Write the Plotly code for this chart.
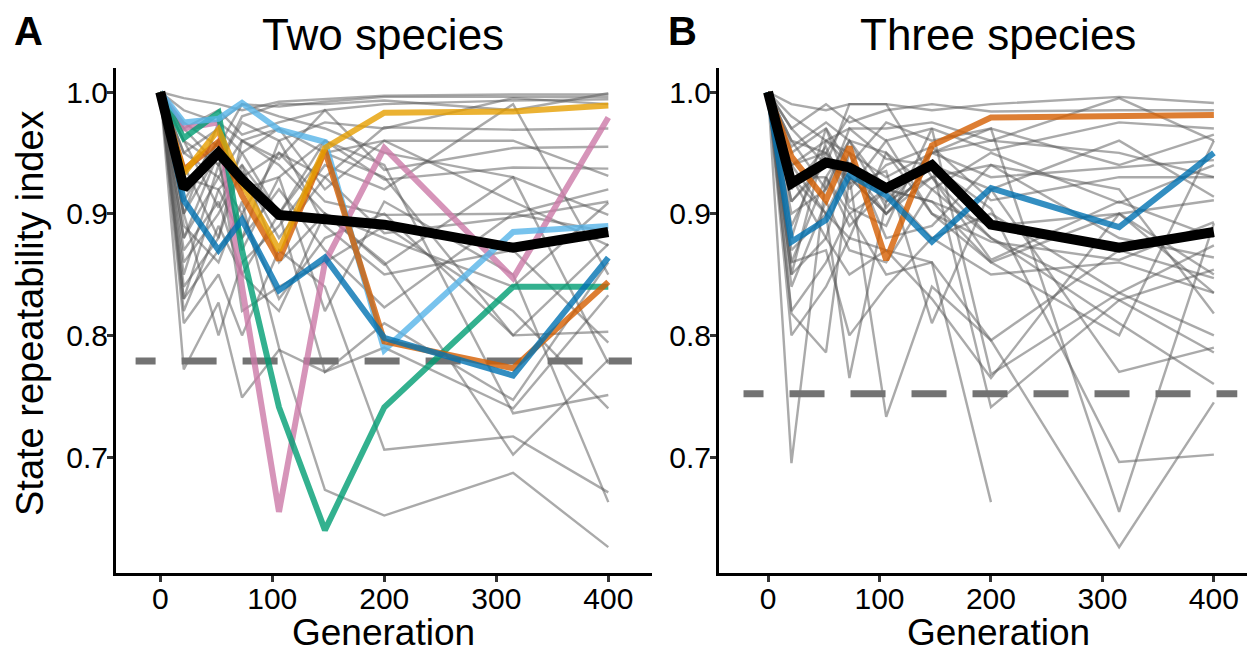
import plotly.graph_objects as go

# ---------------- data ----------------
generations = [0, 21, 52, 73, 106, 147, 200, 315, 400]

# Panel A: two species - individual replicate lines (grey)
two_gray = [
    [1, 0.995, 0.990, 0.985, 0.992, 0.994, 0.997, 0.998, 0.998],
    [1, 0.985, 0.975, 0.990, 0.988, 0.992, 0.996, 0.996, 0.996],
    [1, 0.970, 0.985, 0.965, 0.975, 0.985, 0.990, 0.993, 0.994],
    [1, 0.960, 0.940, 0.975, 0.960, 0.975, 0.970, 0.995, 0.990],
    [1, 0.920, 0.960, 0.930, 0.950, 0.930, 0.971, 0.969, 0.970],
    [1, 0.950, 0.930, 0.960, 0.945, 0.985, 0.936, 0.954, 0.955],
    [1, 0.900, 0.950, 0.920, 0.930, 0.960, 0.928, 0.938, 0.937],
    [1, 0.880, 0.930, 0.900, 0.950, 0.910, 0.899, 0.900, 0.920],
    [1, 0.860, 0.900, 0.935, 0.880, 0.930, 0.884, 0.897, 0.910],
    [1, 0.840, 0.880, 0.940, 0.860, 0.900, 0.858, 0.930, 0.899],
    [1, 0.930, 0.920, 0.880, 0.920, 0.870, 0.823, 0.900, 0.885],
    [1, 0.830, 0.870, 0.900, 0.830, 0.880, 0.900, 0.800, 0.875],
    [1, 0.820, 0.890, 0.850, 0.900, 0.770, 0.810, 0.747, 0.860],
    [1, 0.772, 0.827, 0.749, 0.788, 0.770, 0.790, 0.740, 0.833],
    [1, 0.810, 0.850, 0.800, 0.870, 0.840, 0.706, 0.717, 0.671],
    [1, 0.890, 0.860, 0.910, 0.790, 0.673, 0.652, 0.687, 0.626],
    [1, 0.870, 0.910, 0.850, 0.820, 0.900, 0.860, 0.702, 0.780],
    [1, 0.960, 0.905, 0.950, 0.900, 0.960, 0.940, 0.736, 0.751],
    [1, 0.910, 0.960, 0.870, 0.930, 0.820, 0.910, 0.850, 0.663],
    [1, 0.940, 0.880, 0.960, 0.970, 0.950, 0.930, 0.800, 0.803],
    [1, 0.850, 0.940, 0.880, 0.960, 0.890, 0.850, 0.870, 0.794],
    [1, 0.975, 0.955, 0.990, 0.980, 0.970, 0.950, 0.930, 0.777],
    [1, 0.900, 0.800, 0.860, 0.890, 0.940, 0.920, 0.990, 0.850],
    [1, 0.950, 0.970, 0.950, 0.970, 0.920, 0.960, 0.960, 0.931],
    [1, 0.970, 0.940, 0.980, 0.990, 0.990, 0.993, 0.985, 0.999],
    [1, 0.880, 0.950, 0.820, 0.840, 0.860, 0.890, 0.820, 0.740],
    [1, 0.830, 0.920, 0.940, 0.900, 0.950, 0.960, 0.910, 0.874],
    [1, 0.900, 0.975, 0.960, 0.940, 0.900, 0.880, 0.840, 0.909],
]

# Panel A: highlighted replicates
two_skyblue = [1, 0.975, 0.978, 0.991, 0.969, 0.959, 0.788, 0.885, 0.890]
two_yellow  = [1, 0.933, 0.969, 0.925, 0.870, 0.954, 0.983, 0.984, 0.989]
two_orange  = [1, 0.936, 0.959, 0.915, 0.862, 0.952, 0.795, 0.773, 0.844]
two_blue    = [1, 0.911, 0.870, 0.895, 0.837, 0.864, 0.798, 0.767, 0.864]
two_green   = [1, 0.962, 0.983, 0.870, 0.741, 0.640, 0.741, 0.840, 0.840]
two_pink    = [1, 0.970, 0.975, 0.840, 0.655, 0.860, 0.954, 0.847, 0.979]
two_mean    = [1, 0.921, 0.950, 0.928, 0.899, 0.896, 0.891, 0.872, 0.885]
two_threshold = 0.779

# Panel B: three species - individual replicate lines (grey)
three_gray = [
    [1, 0.990, 0.985, 0.990, 0.990, 0.985, 0.990, 0.996, 0.991],
    [1, 0.970, 0.990, 0.975, 0.985, 0.990, 0.984, 0.985, 0.985],
    [1, 0.960, 0.950, 0.980, 0.960, 0.970, 0.952, 0.975, 0.970],
    [1, 0.950, 0.970, 0.940, 0.975, 0.960, 0.970, 0.940, 0.965],
    [1, 0.940, 0.960, 0.950, 0.930, 0.950, 0.930, 0.938, 0.944],
    [1, 0.930, 0.930, 0.960, 0.950, 0.920, 0.950, 0.909, 0.940],
    [1, 0.920, 0.955, 0.910, 0.940, 0.955, 0.911, 0.930, 0.930],
    [1, 0.910, 0.940, 0.930, 0.900, 0.940, 0.920, 0.960, 0.914],
    [1, 0.900, 0.920, 0.960, 0.920, 0.910, 0.890, 0.900, 0.911],
    [1, 0.880, 0.970, 0.920, 0.960, 0.900, 0.877, 0.862, 0.893],
    [1, 0.870, 0.900, 0.940, 0.910, 0.930, 0.862, 0.910, 0.881],
    [1, 0.860, 0.930, 0.890, 0.920, 0.880, 0.900, 0.835, 0.874],
    [1, 0.850, 0.880, 0.950, 0.880, 0.890, 0.940, 0.880, 0.864],
    [1, 0.840, 0.910, 0.870, 0.860, 0.920, 0.880, 0.829, 0.854],
    [1, 0.820, 0.860, 0.900, 0.850, 0.860, 0.796, 0.870, 0.847],
    [1, 0.800, 0.840, 0.880, 0.870, 0.830, 0.765, 0.900, 0.835],
    [1, 0.695, 0.930, 0.900, 0.920, 0.910, 0.860, 0.900, 0.850],
    [1, 0.818, 0.786, 0.930, 0.900, 0.940, 0.904, 0.696, 0.702],
    [1, 0.930, 0.900, 0.765, 0.910, 0.950, 0.970, 0.655, 0.892],
    [1, 0.940, 0.950, 0.930, 0.733, 0.840, 0.796, 0.626, 0.745],
    [1, 0.930, 0.880, 0.850, 0.870, 0.860, 0.663, None, None],
    [1, 0.960, 0.920, 0.970, 0.945, 0.940, 0.741, 0.829, 0.786],
    [1, 0.890, 0.950, 0.905, 0.890, 0.970, 0.768, 0.835, 0.800],
    [1, 0.940, 0.900, 0.880, 0.950, 0.900, 0.860, 0.800, 0.960],
    [1, 0.980, 0.960, 0.970, 0.970, 0.975, 0.960, 0.995, 0.960],
    [1, 0.970, 0.940, 0.990, 0.990, 0.930, 0.940, 0.920, 0.818],
    [1, 0.860, 0.870, 0.800, 0.840, 0.880, 0.850, 0.860, 0.835],
    [1, 0.955, 0.975, 0.960, 0.905, 0.950, 0.960, 0.950, 0.930],
    [1, 0.910, 0.945, 0.925, 0.935, 0.810, 0.920, 0.770, 0.790],
    [1, 0.850, 0.960, 0.940, 0.900, 0.930, 0.880, 0.810, 0.760],
]

# Panel B: highlighted replicates
three_orange = [1, 0.947, 0.911, 0.955, 0.862, 0.956, 0.979, 0.980, 0.981]
three_blue   = [1, 0.877, 0.895, 0.932, 0.915, 0.877, 0.921, 0.889, 0.950]
three_mean   = [1, 0.925, 0.942, 0.938, 0.921, 0.940, 0.891, 0.872, 0.885]
three_threshold = 0.752

threshold_span = [-22, 421]
x_ticks = [0, 100, 200, 300, 400]
y_ticks = [0.7, 0.8, 0.9, 1.0]
y_tick_text = ["0.7", "0.8", "0.9", "1.0"]

# ---------------- styling ----------------
FONT = "Liberation Sans, Arial, Helvetica, sans-serif"
GREY = "rgba(85,85,85,0.5)"
ALPHA = 0.8
SKY = f"rgba(86,180,233,{ALPHA})"
YEL = f"rgba(230,159,0,{ALPHA})"
VER = f"rgba(213,94,0,{ALPHA})"
BLU = f"rgba(0,114,178,{ALPHA})"
GRN = f"rgba(0,158,115,{ALPHA})"
PNK = f"rgba(204,121,167,{ALPHA})"
DASH = "20px,26px," + ",".join(["35px,26px"] * 9)

fig = go.Figure()


def add_panel(xa, ya, grays, colored, mean, thr):
    for g in grays:
        fig.add_trace(go.Scatter(x=generations, y=g, mode="lines", xaxis=xa, yaxis=ya,
                                 line=dict(color=GREY, width=2.4), connectgaps=False,
                                 hoverinfo="skip", showlegend=False))
    fig.add_trace(go.Scatter(x=threshold_span, y=[thr, thr], mode="lines", xaxis=xa, yaxis=ya,
                             line=dict(color="#737373", width=7, dash=DASH),
                             hoverinfo="skip", showlegend=False))
    for vals, col in colored:
        fig.add_trace(go.Scatter(x=generations, y=vals, mode="lines", xaxis=xa, yaxis=ya,
                                 line=dict(color=col, width=6),
                                 hoverinfo="skip", showlegend=False))
    fig.add_trace(go.Scatter(x=generations, y=mean, mode="lines", xaxis=xa, yaxis=ya,
                             line=dict(color="black", width=10),
                             hoverinfo="skip", showlegend=False))


add_panel("x", "y", two_gray,
          [(two_pink, PNK), (two_green, GRN), (two_skyblue, SKY), (two_orange, VER),
           (two_yellow, YEL), (two_blue, BLU)],
          two_mean, two_threshold)
add_panel("x2", "y2", three_gray,
          [(three_orange, VER), (three_blue, BLU)],
          three_mean, three_threshold)

# page has an 8px body margin: figure is placed at (8, 8)
OFF = 8
W, H = 1255 - OFF, 653 - OFF


def px(x):
    return (x - OFF) / W


def py(y):
    return 1 - (y - OFF) / H


y_dom = [py(573), py(68)]
y_rng = [1.0 - (573 - 92) / 1217, 1.0 + (92 - 68) / 1217]

common_x = dict(showgrid=False, zeroline=False, showline=True, linecolor="black", linewidth=3,
                ticks="outside", ticklen=6, tickwidth=2.5, tickcolor="#333333",
                tickvals=x_ticks, ticklabelstandoff=-9,
                tickfont=dict(family=FONT, size=30, color="black"))
common_y = dict(showgrid=False, zeroline=False, showline=True, linecolor="black", linewidth=3,
                ticks="outside", ticklen=6, tickwidth=2.5, tickcolor="#333333",
                tickvals=y_ticks, ticktext=y_tick_text, domain=y_dom, range=y_rng,
                ticklabelstandoff=-7,
                tickfont=dict(family=FONT, size=30, color="black"))

fig.update_layout(
    width=W, height=H,
    margin=dict(l=0, r=0, t=0, b=0),
    paper_bgcolor="white", plot_bgcolor="white",
    font=dict(family=FONT, color="black"),
    xaxis=dict(domain=[px(116), px(652)], range=[-39.5, 439], anchor="y", **common_x),
    yaxis=dict(anchor="x", **common_y),
    xaxis2=dict(domain=[px(719), px(1254)], range=[-44, 436], anchor="y2", **common_x),
    yaxis2=dict(anchor="x2", **common_y),
    annotations=[
        dict(text="Two species", x=px(383), y=py(35), xref="paper", yref="paper",
             showarrow=False, font=dict(family=FONT, size=44, color="black"),
             xanchor="center", yanchor="middle"),
        dict(text="Three species", x=px(998), y=py(35), xref="paper", yref="paper",
             showarrow=False, font=dict(family=FONT, size=44, color="black"),
             xanchor="center", yanchor="middle"),
        dict(text="<b>A</b>", x=px(28), y=py(31), xref="paper", yref="paper",
             showarrow=False, font=dict(family=FONT, size=40, color="black"),
             xanchor="center", yanchor="middle"),
        dict(text="<b>B</b>", x=px(683), y=py(31), xref="paper", yref="paper",
             showarrow=False, font=dict(family=FONT, size=40, color="black"),
             xanchor="center", yanchor="middle"),
        dict(text="Generation", x=px(383), y=py(632), xref="paper", yref="paper",
             showarrow=False, font=dict(family=FONT, size=37, color="black"),
             xanchor="center", yanchor="middle"),
        dict(text="Generation", x=px(998), y=py(632), xref="paper", yref="paper",
             showarrow=False, font=dict(family=FONT, size=37, color="black"),
             xanchor="center", yanchor="middle"),
        dict(text="State repeatability index", x=px(30), y=py(313), xref="paper", yref="paper",
             showarrow=False, textangle=-90, font=dict(family=FONT, size=38, color="black"),
             xanchor="center", yanchor="middle"),
    ],
)

fig.write_html("out.html")
